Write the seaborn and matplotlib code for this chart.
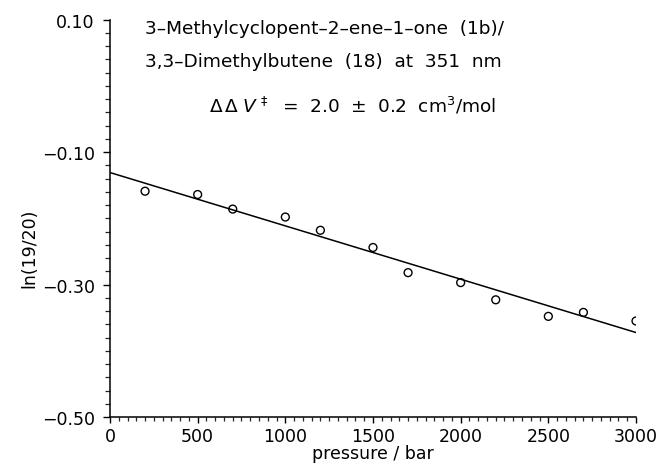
import numpy as np
import pandas as pd
import seaborn as sns
import matplotlib.pyplot as plt
from matplotlib.ticker import FixedLocator, MultipleLocator

# data
pressure = [200, 500, 700, 1000, 1200, 1500, 1700, 2000, 2200, 2500, 2700, 3000]
ln_ratio = [-0.159, -0.164, -0.186, -0.198, -0.218, -0.244,
            -0.282, -0.297, -0.323, -0.348, -0.342, -0.355]
y_ticks = [0.10, -0.10, -0.30, -0.50]
x_ticks = [0, 500, 1000, 1500, 2000, 2500, 3000]

df = pd.DataFrame({'pressure': pressure, 'ln': ln_ratio})

sns.set_style('ticks')
plt.rcParams['font.family'] = ['DejaVu Sans']
plt.rcParams['mathtext.fontset'] = 'dejavusans'
plt.rcParams['text.color'] = 'black'
plt.rcParams['axes.labelcolor'] = 'black'

fig = plt.figure(figsize=(6.59, 4.64), dpi=100)
ax = fig.add_axes([0.1669, 0.0991, 0.7982, 0.8563])

ax.set_xlim(0, 3000)
ax.set_ylim(-0.50, 0.10)

sns.scatterplot(data=df, x='pressure', y='ln', ax=ax, marker='o', s=32,
                facecolor='none', edgecolor='black', linewidth=1.0, zorder=3)
sns.regplot(data=df, x='pressure', y='ln', ax=ax, scatter=False, ci=None,
            truncate=False, color='black', line_kws={'linewidth': 1.1})

ax.set_xlim(0, 3000)
ax.set_ylim(-0.50, 0.10)

sns.despine(ax=ax)
for s in ['left', 'bottom']:
    ax.spines[s].set_linewidth(1.1)
    ax.spines[s].set_color('black')

ax.xaxis.set_major_locator(FixedLocator(x_ticks))
ax.xaxis.set_minor_locator(MultipleLocator(50))
ax.yaxis.set_major_locator(FixedLocator(y_ticks))
ax.yaxis.set_minor_locator(FixedLocator(np.arange(-0.50, 0.101, 0.02)))
ax.set_yticklabels([f'{v:.2f}'.replace('-', '\u2212') for v in y_ticks])
ax.set_xticklabels([str(v) for v in x_ticks])

ax.tick_params(axis='x', which='major', length=4, width=1.0, pad=3.5,
               labelsize=12.5, colors='black', direction='out')
ax.tick_params(axis='x', which='minor', length=3, width=0.9, direction='out')
ax.tick_params(axis='y', which='major', length=5, width=1.0, pad=6,
               labelsize=12.5, colors='black', direction='out')
ax.tick_params(axis='y', which='minor', length=3.5, width=0.9, direction='out')

ax.set_xlabel('pressure / bar', fontsize=12.5, labelpad=0)
ax.set_ylabel('ln(19/20)', fontsize=12.5)
ax.yaxis.set_label_coords(-0.136, 0.428)
ax.xaxis.set_label_coords(0.5, -0.068)

ax.text(0.0658, 0.979, '3\u2013Methylcyclopent\u20132\u2013ene\u20131\u2013one  (1b)/',
        transform=ax.transAxes, fontsize=13.3, va='center', ha='left')
ax.text(0.0658, 0.896, '3,3\u2013Dimethylbutene  (18)  at  351  nm',
        transform=ax.transAxes, fontsize=13.3, va='center', ha='left')
ax.text(0.188, 0.785,
        r'$\Delta\,\Delta\;V^{\,\ddagger}$  =  2.0  $\pm$  0.2  cm$^3$/mol',
        transform=ax.transAxes, fontsize=13.3, va='center', ha='left')

fig.savefig('out.png', dpi=100)
